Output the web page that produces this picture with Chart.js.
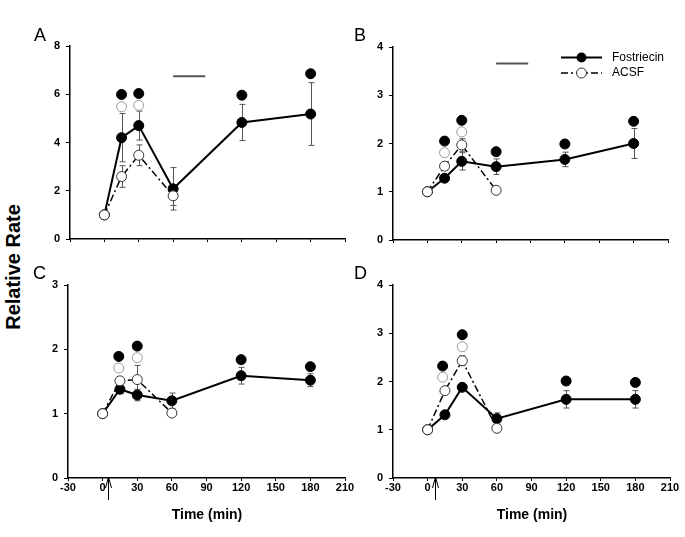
<!DOCTYPE html>
<html><head><meta charset="utf-8">
<script src="https://cdn.jsdelivr.net/npm/chart.js@4.4.1/dist/chart.umd.min.js"></script>
<style>
html,body{margin:0;padding:0;background:#fff;}
body{width:685px;height:537px;position:relative;overflow:hidden;font-family:"Liberation Sans",Arial,sans-serif;}
canvas{position:absolute;}
.lbl{position:absolute;color:#000;white-space:nowrap;}
.letter{font-size:18px;line-height:18px;}
.xt{font-size:14px;line-height:14px;font-weight:bold;width:200px;text-align:center;}
.yt{font-size:20px;line-height:20px;font-weight:bold;width:160px;height:20px;text-align:center;transform:rotate(-90deg);}
</style></head><body>
<canvas id="cA" width="330" height="239" style="left:30px;top:30px"></canvas>
<canvas id="cB" width="330" height="239" style="left:353px;top:31px"></canvas>
<canvas id="cC" width="332" height="239" style="left:28px;top:269px"></canvas>
<canvas id="cD" width="332" height="239" style="left:353px;top:269px"></canvas>
<div class="lbl letter" style="left:34px;top:26px">A</div>
<div class="lbl letter" style="left:354px;top:26px">B</div>
<div class="lbl letter" style="left:33px;top:264px">C</div>
<div class="lbl letter" style="left:354px;top:264px">D</div>
<div class="lbl xt" style="left:107px;top:507px">Time (min)</div>
<div class="lbl xt" style="left:432px;top:507px">Time (min)</div>
<div class="lbl yt" style="left:-67px;top:257px">Relative Rate</div>
<script>
// ---- shared ----
const timesFos = [0, 15, 30, 60, 120, 180];
const timesAcsf = [0, 15, 30, 60];
const xTickMin = -30, xTickMax = 210, xTickStep = 30;

// ---- Panel A ----
const fosA = [1, 4.2, 4.7, 2.08, 4.83, 5.18];
const fosErrA = [0, 1.0, 0.6, 0.88, 0.75, 1.3];
const acsfA = [1, 2.59, 3.47, 1.79];
const acsfErrA = [0, 0.45, 0.43, 0.4];
const sigFosTimesA = [15, 30, 120, 180];
const sigFosA = [5.99, 6.03, 5.96, 6.85];
const sigAcsfTimesA = [15, 30];
const sigAcsfA = [5.48, 5.54];
const barA = [60, 88, 6.75];
const yMaxA = 8, yStepA = 2;

// ---- Panel B ----
const fosB = [1, 1.28, 1.63, 1.52, 1.67, 2.0];
const fosErrB = [0, 0.05, 0.18, 0.16, 0.15, 0.31];
const acsfB = [1, 1.53, 1.97, 1.03];
const acsfErrB = [0, 0.08, 0.13, 0.05];
const sigFosTimesB = [15, 30, 60, 120, 180];
const sigFosB = [2.05, 2.48, 1.83, 1.99, 2.46];
const sigAcsfTimesB = [15, 30];
const sigAcsfB = [1.81, 2.24];
const barB = [60, 88, 3.66];
const yMaxB = 4, yStepB = 1;

// ---- Panel C ----
const fosC = [1, 1.38, 1.29, 1.2, 1.59, 1.52];
const fosErrC = [0, 0.07, 0.09, 0.12, 0.13, 0.1];
const acsfC = [1, 1.51, 1.53, 1.01];
const acsfErrC = [0, 0.05, 0.22, 0.04];
const sigFosTimesC = [14, 30, 120, 180];
const sigFosC = [1.89, 2.05, 1.84, 1.73];
const sigAcsfTimesC = [14, 30];
const sigAcsfC = [1.71, 1.87];
const arrowC = 5;
const yMaxC = 3, yStepC = 1;

// ---- Panel D ----
const fosD = [1, 1.31, 1.88, 1.23, 1.63, 1.63];
const fosErrD = [0, 0.04, 0.05, 0.12, 0.18, 0.18];
const acsfD = [1, 1.81, 2.43, 1.03];
const acsfErrD = [0, 0.05, 0.1, 0.03];
const sigFosTimesD = [13, 30, 120, 180];
const sigFosD = [2.32, 2.97, 2.01, 1.98];
const sigAcsfTimesD = [13, 30];
const sigAcsfD = [2.09, 2.72];
const arrowD = 6;
const yMaxD = 4, yStepD = 1;

const legendLabels = ['Fostriecin', 'ACSF'];

function pts(xs, ys){ return xs.map((x,i)=>({x:x, y:ys[i]})); }

const extrasPlugin = {
  id: 'extras',
  beforeDatasetsDraw(chart, args, opts){
    const ctx = chart.ctx, sx = chart.scales.x, sy = chart.scales.y;
    ctx.save();
    ctx.strokeStyle = '#555'; ctx.lineWidth = 1;
    (opts.errors||[]).forEach(set=>{
      set.t.forEach((t,i)=>{
        const e = set.e[i]; if(!e) return;
        const px = Math.round(sx.getPixelForValue(t))+0.5;
        const top = sy.getPixelForValue(set.v[i]+e);
        const bot = sy.getPixelForValue(set.v[i]-e);
        ctx.beginPath();
        ctx.moveTo(px, top); ctx.lineTo(px, bot);
        ctx.moveTo(px-3, top); ctx.lineTo(px+3, top);
        ctx.moveTo(px-3, bot); ctx.lineTo(px+3, bot);
        ctx.stroke();
      });
    });
    ctx.restore();
  },
  afterDraw(chart, args, opts){
    const ctx = chart.ctx, sx = chart.scales.x, sy = chart.scales.y, ca = chart.chartArea;
    ctx.save();
    if(opts.bar){
      ctx.strokeStyle = '#555'; ctx.lineWidth = 2;
      const y = sy.getPixelForValue(opts.bar[2]);
      ctx.beginPath();
      ctx.moveTo(sx.getPixelForValue(opts.bar[0]), y);
      ctx.lineTo(sx.getPixelForValue(opts.bar[1]), y);
      ctx.stroke();
    }
    if(opts.arrow !== undefined){
      const x = Math.round(sx.getPixelForValue(opts.arrow))+0.5;
      const tip = ca.bottom - 1;
      ctx.strokeStyle = '#000'; ctx.lineWidth = 1;
      ctx.beginPath();
      ctx.moveTo(x, tip); ctx.lineTo(x, ca.bottom + 22);
      ctx.moveTo(x-3, tip+11); ctx.lineTo(x, tip); ctx.lineTo(x+3, tip+11);
      ctx.stroke();
    }
    if(opts.legend){
      const lx = ca.left + 168, ly1 = ca.top + 10.5, ly2 = ca.top + 26;
      ctx.strokeStyle = '#000'; ctx.lineWidth = 2; ctx.setLineDash([]);
      ctx.beginPath(); ctx.moveTo(lx, ly1); ctx.lineTo(lx+41, ly1); ctx.stroke();
      ctx.fillStyle = '#000';
      ctx.beginPath(); ctx.arc(lx+20.5, ly1, 5, 0, Math.PI*2); ctx.fill();
      ctx.lineWidth = 1.5; ctx.setLineDash([7,3,2,3]);
      ctx.beginPath(); ctx.moveTo(lx, ly2); ctx.lineTo(lx+41, ly2); ctx.stroke();
      ctx.setLineDash([]);
      ctx.fillStyle = '#fff'; ctx.strokeStyle = '#333'; ctx.lineWidth = 1;
      ctx.beginPath(); ctx.arc(lx+20.5, ly2, 5, 0, Math.PI*2); ctx.fill(); ctx.stroke();
      ctx.fillStyle = '#000';
      ctx.font = '12px "Liberation Sans", Arial, sans-serif';
      ctx.textBaseline = 'middle'; ctx.textAlign = 'left';
      ctx.fillText(opts.legend[0], lx+51, ly1);
      ctx.fillText(opts.legend[1], lx+51, ly2);
    }
    ctx.restore();
  }
};

function makePanel(id, p){
  const datasets = [
    { label: legendLabels[1], data: pts(timesAcsf, p.acsf), showLine: true,
      borderColor: '#000', borderWidth: 1.5, borderDash: [7,3,2,3],
      pointRadius: 5, pointBackgroundColor: '#fff', pointBorderColor: '#333', pointBorderWidth: 1 },
    { label: legendLabels[0], data: pts(timesFos, p.fos), showLine: true,
      borderColor: '#000', borderWidth: 2,
      pointRadius: 5, pointBackgroundColor: '#000', pointBorderColor: '#000', pointBorderWidth: 1 },
    { label: 'sigF', data: pts(p.sfT, p.sf), showLine: false,
      pointRadius: 5, pointBackgroundColor: '#000', pointBorderColor: '#000', pointBorderWidth: 1 },
    { label: 'sigA', data: pts(p.saT, p.sa), showLine: false,
      pointRadius: 5, pointBackgroundColor: '#fff', pointBorderColor: '#999', pointBorderWidth: 1 }
  ];
  return new Chart(document.getElementById(id), {
    type: 'line',
    data: { datasets },
    plugins: [extrasPlugin],
    options: {
      responsive: false, animation: false, devicePixelRatio: 1,
      layout: { padding: { top: 16, right: 15, left: 0, bottom: 0 } },
      plugins: {
        legend: { display: false }, tooltip: { enabled: false },
        extras: {
          errors: [ {t: timesFos, v: p.fos, e: p.fosErr}, {t: timesAcsf, v: p.acsf, e: p.acsfErr} ],
          bar: p.bar, arrow: p.arrow, legend: p.legend
        }
      },
      scales: {
        x: { type: 'linear', min: xTickMin, max: xTickMax,
          afterFit: s => { s.height = 30; },
          ticks: { stepSize: xTickStep, display: p.xLabels, color: '#000', padding: 0,
                   font: { family: '"Liberation Sans", Arial, sans-serif', size: 11, weight: 'bold' }, maxRotation: 0 },
          grid: { display: true, drawOnChartArea: false, drawTicks: true, tickLength: 3, color: '#000' },
          border: { display: true, color: '#000', width: 1.5 } },
        y: { type: 'linear', min: 0, max: p.yMax,
          afterFit: s => { s.width = 40; },
          ticks: { stepSize: p.yStep, color: '#000', padding: 6,
                   font: { family: '"Liberation Sans", Arial, sans-serif', size: 11, weight: 'bold' } },
          grid: { display: true, drawOnChartArea: false, drawTicks: true, tickLength: 4, color: '#000' },
          border: { display: true, color: '#000', width: 1.5 } }
      }
    }
  });
}

makePanel('cA', { fos: fosA, fosErr: fosErrA, acsf: acsfA, acsfErr: acsfErrA,
  sfT: sigFosTimesA, sf: sigFosA, saT: sigAcsfTimesA, sa: sigAcsfA,
  bar: barA, yMax: yMaxA, yStep: yStepA, xLabels: false });
makePanel('cB', { fos: fosB, fosErr: fosErrB, acsf: acsfB, acsfErr: acsfErrB,
  sfT: sigFosTimesB, sf: sigFosB, saT: sigAcsfTimesB, sa: sigAcsfB,
  bar: barB, yMax: yMaxB, yStep: yStepB, xLabels: false, legend: legendLabels });
makePanel('cC', { fos: fosC, fosErr: fosErrC, acsf: acsfC, acsfErr: acsfErrC,
  sfT: sigFosTimesC, sf: sigFosC, saT: sigAcsfTimesC, sa: sigAcsfC,
  arrow: arrowC, yMax: yMaxC, yStep: yStepC, xLabels: true });
makePanel('cD', { fos: fosD, fosErr: fosErrD, acsf: acsfD, acsfErr: acsfErrD,
  sfT: sigFosTimesD, sf: sigFosD, saT: sigAcsfTimesD, sa: sigAcsfD,
  arrow: arrowD, yMax: yMaxD, yStep: yStepD, xLabels: true });
</script>
</body></html>
